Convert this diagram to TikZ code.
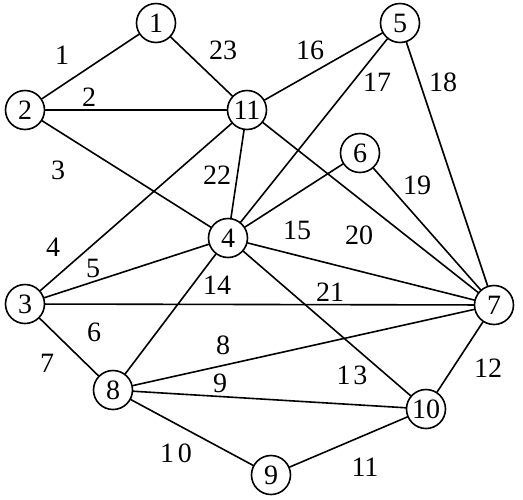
\documentclass[tikz,border=0pt]{standalone}
\usepackage{fontspec}
\setmainfont{Liberation Serif}
\tikzset{
	vertex/.style={draw,circle,line width=1.6pt,minimum size=39pt,inner sep=0pt,font=\fontsize{28}{28}\selectfont},
	weight/.style={font=\fontsize{28}{28}\selectfont,inner sep=0pt}
}
\begin{document}
\begin{tikzpicture}[x=1pt,y=-1pt, line join = round, line cap = round]
	\useasboundingbox (0,0) rectangle (523,499);
	\node[vertex] (n1) at (156,23) {1};
	\node[vertex] (n2) at (25,110) {2};
	\node[vertex] (n3) at (25,304) {3};
	\node[vertex] (n4) at (228,238) {4};
	\node[vertex] (n5) at (400,23) {5};
	\node[vertex] (n6) at (360,153) {6};
	\node[vertex] (n7) at (494,305) {7};
	\node[vertex] (n8) at (113,390) {8};
	\node[vertex] (n9) at (271,475) {9};
	\node[vertex] (n10) at (426,409) {10};
	\node[vertex] (n11) at (247,110) {11};
	\node[weight] (e1) at (62,55) {1};
	\node[weight] (e2) at (89,97) {2};
	\node[weight] (e3) at (58,170) {3};
	\node[weight] (e4) at (53,247) {4};
	\node[weight] (e5) at (93,268) {5};
	\node[weight] (e6) at (94,332) {6};
	\node[weight] (e7) at (47,363) {7};
	\node[weight] (e8) at (223,345) {8};
	\node[weight] (e9) at (220,383) {9};
	\node[weight] (e10) at (176,453) {1\kern4pt0};
	\node[weight] (e11) at (365,467) {11};
	\node[weight] (e12) at (488,368) {12};
	\node[weight] (e13) at (352,375) {1\kern3pt3};
	\node[weight] (e14) at (217,285) {14};
	\node[weight] (e15) at (297,230) {15};
	\node[weight] (e16) at (310,50) {16};
	\node[weight] (e17) at (377,82) {17};
	\node[weight] (e18) at (443,82) {18};
	\node[weight] (e19) at (417,185) {19};
	\node[weight] (e20) at (359,235) {20};
	\node[weight] (e21) at (330,292) {21};
	\node[weight] (e22) at (217,175) {22};
	\node[weight] (e23) at (223,50) {23};
	
	\draw[line width=1.6pt] (n1)--(n2)--(n11)--(n1);
	\draw[line width=1.6pt] (n2)--(n4)--(n11)--(n3)--(n4);
	\draw[line width=1.6pt] (n11)--(n5)--(n4)--(n6)--(n7)--(n5);
	\draw[line width=1.6pt] (n11)--(n7)--(n4)--(n8)--(n3)--(n7)--(n8);
	\draw[line width=1.6pt] (n4)--(n10)--(n8)--(n9)--(n10)--(n7);
	
\end{tikzpicture}
\end{document}
